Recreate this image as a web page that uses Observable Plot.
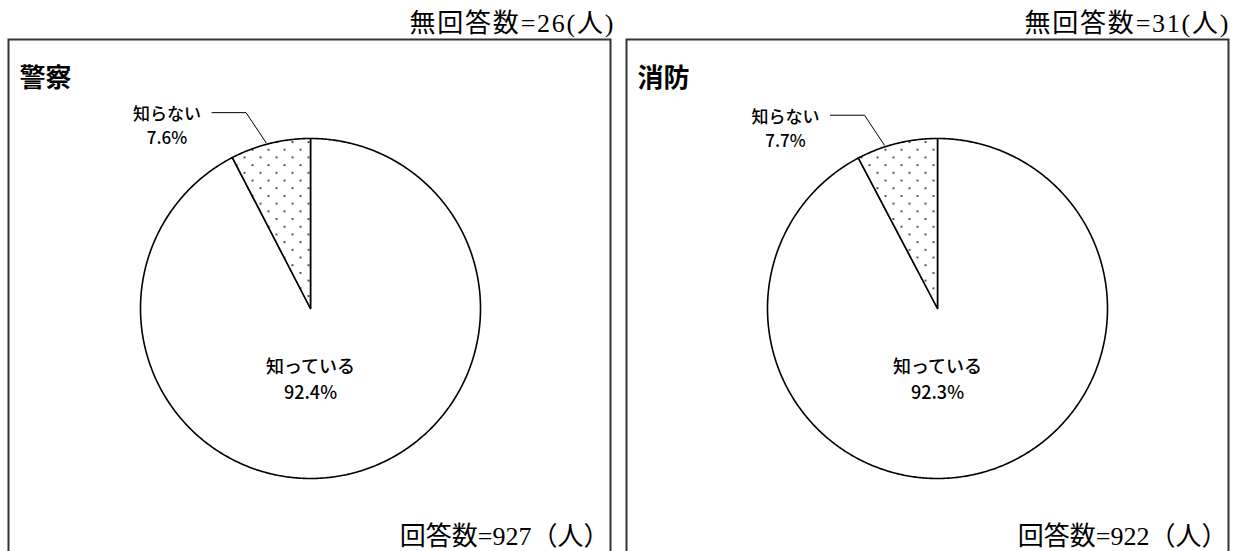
<!DOCTYPE html>
<html><head><meta charset="utf-8">
<script src="https://cdn.jsdelivr.net/npm/d3@7"></script>
<script src="https://cdn.jsdelivr.net/npm/@observablehq/plot@0.6"></script>
<style>
body{margin:0;background:#fff;}
#wrap{position:relative;width:1233px;height:551px;overflow:hidden;background:#fff;}
#wrap > svg{position:absolute;top:0;max-width:none !important;}
</style></head><body><div id="wrap"></div>
<script>
const panels = ["警察", "消防"];
const categories = ["知っている", "知らない"];
const policeShares = [92.4, 7.6];
const fireShares = [92.3, 7.7];
const answeredCounts = [927, 922];
const unansweredCounts = [26, 31];
const sharesByPanel = [policeShares, fireShares];

// layout (pixels)
const layout = [
  {left: 0,   width: 617, mL: 8, mR: 7, cx: 310, leaderAngle: 15},
  {left: 617, width: 616, mL: 9, mR: 5, cx: 320, leaderAngle: 18}
];
const H = 551, mT = 39, R = 170, CY = 308;
const serif = "'Liberation Serif','DejaVu Serif','Noto Sans CJK JP',serif";
const sans = "'Noto Sans CJK JP','Noto Sans',sans-serif";
const wrap = document.getElementById("wrap");

panels.forEach((panel, i) => {
  const L = layout[i];
  const rows = categories.map((c, j) => ({category: c, value: sharesByPanel[i][j]}));
  const arcs = d3.pie().sort(null).value(d => d.value)(rows);
  const slicePts = arcs.map(a => {
    const pts = [{x: 0, y: 0}];
    const n = Math.max(2, Math.ceil((a.endAngle - a.startAngle) / (Math.PI / 360)));
    for (let k = 0; k <= n; k++) {
      const t = a.startAngle + (a.endAngle - a.startAngle) * k / n;
      pts.push({x: Math.sin(t), y: Math.cos(t)});
    }
    return pts;
  });
  const fmt = v => v.toFixed(1) + "%";
  // leader for small slice
  const la = -L.leaderAngle * Math.PI / 180;
  const end = {x: Math.sin(la) * 1.01, y: Math.cos(la) * 1.01};
  const elbow = {x: end.x - 20 / R, y: end.y + 30 / R};
  const start = {x: end.x - 54 / R, y: elbow.y};
  const leader = [start, elbow, end];
  const smallLabel = [{x: end.x - 99 / R, y: elbow.y - 12 / R, text: categories[1] + "\n" + fmt(rows[1].value)}];
  const bigLabel = [{x: 0, y: -0.406, text: categories[0] + "\n" + fmt(rows[0].value)}];
  const topNote = `無回答数=${unansweredCounts[i]}(人)`;
  const bottomNote = `回答数=${answeredCounts[i]}（人）`;

  const svg = Plot.plot({
    width: L.width, height: H,
    marginTop: mT, marginBottom: 0, marginLeft: L.mL, marginRight: L.mR,
    x: {domain: [-1, 1], range: [L.cx - R, L.cx + R], axis: null},
    y: {domain: [-1, 1], range: [CY + R, CY - R], axis: null},
    style: {background: "white", overflow: "hidden"},
    marks: [
      Plot.frame({stroke: "#333", strokeWidth: 2, insetBottom: -6}),
      Plot.line(slicePts[0], {x: "x", y: "y", curve: "linear-closed", fill: "white", stroke: "black", strokeWidth: 1.6}),
      Plot.line(slicePts[1], {x: "x", y: "y", curve: "linear-closed", fill: `url(#dots${i})`, stroke: "black", strokeWidth: 1.6}),
      Plot.line(leader, {x: "x", y: "y", stroke: "black", strokeWidth: 1}),
      Plot.text(smallLabel, {x: "x", y: "y", text: "text", fontSize: 17, fontWeight: 500, fontFamily: sans, lineHeight: 1.41, fill: "black"}),
      Plot.text(bigLabel, {x: "x", y: "y", text: "text", fontSize: 18, fontWeight: 500, fontFamily: sans, lineHeight: 1.44, fill: "black"}),
      Plot.text([panel], {text: d => d, frameAnchor: "top-left", textAnchor: "start", lineAnchor: "bottom", dx: 11, dy: 47, fontSize: 26, fontWeight: "bold", fontFamily: sans, fill: "black"}),
      Plot.text([topNote], {text: d => d, frameAnchor: "top-right", textAnchor: "end", lineAnchor: "bottom", dx: i === 0 ? 3 : 0, dy: -8, fontSize: 26, fontFamily: serif, fill: "black"}),
      Plot.text([bottomNote], {text: d => d, frameAnchor: "bottom-right", textAnchor: "end", lineAnchor: "bottom", dx: -1, dy: -7, fontSize: 26, fontFamily: serif, fill: "black"})
    ]
  });
  const defs = document.createElementNS("http://www.w3.org/2000/svg", "defs");
  defs.innerHTML = `<pattern id="dots${i}" patternUnits="userSpaceOnUse" width="16" height="15.4"><rect width="16" height="15.4" fill="white"/><circle cx="4" cy="3" r="1" fill="#222"/><circle cx="12" cy="10.7" r="1" fill="#222"/></pattern>`;
  svg.prepend(defs);
  // widen the top note to the reference's spacing
  d3.select(svg).selectAll("text").filter(function () { return this.textContent === topNote; })
    .attr("textLength", 204).attr("lengthAdjust", "spacing");
  svg.style.left = L.left + "px";
  wrap.appendChild(svg);
});
</script></body></html>
